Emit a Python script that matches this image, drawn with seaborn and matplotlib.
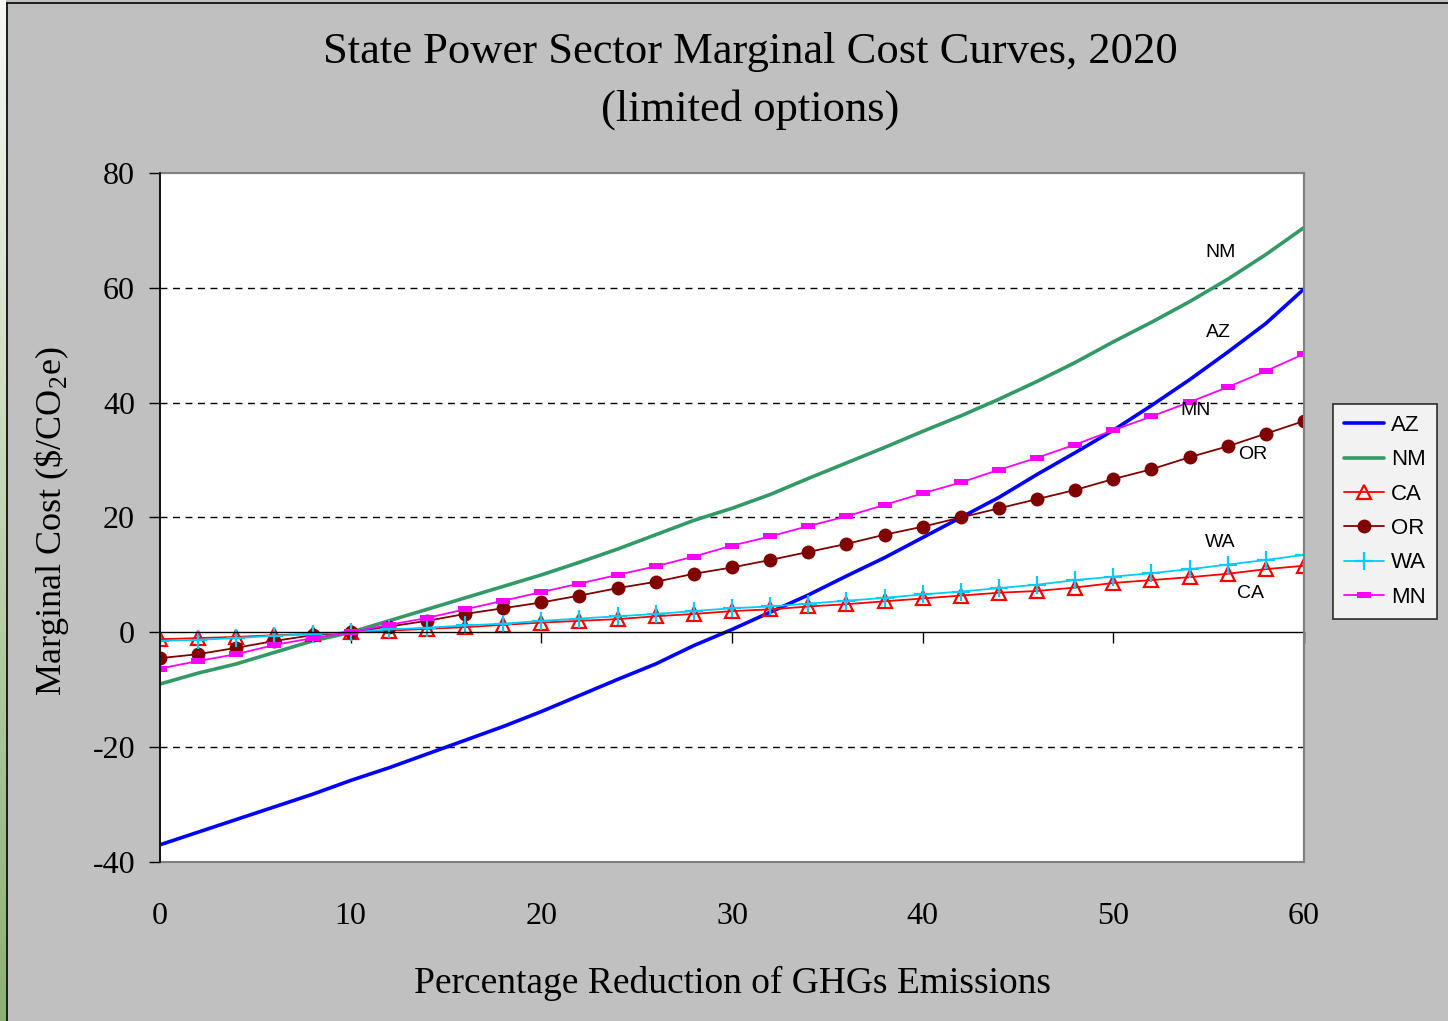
import matplotlib
matplotlib.use("Agg")
import matplotlib.pyplot as plt
from matplotlib.path import Path
from matplotlib.lines import Line2D
from matplotlib.patches import Rectangle
import numpy as np
import seaborn as sns

# percentage reduction (x) and marginal cost per state ($/tCO2e)
reduction = [0, 2, 4, 6, 8, 10, 12, 14, 16, 18, 20, 22, 24, 26, 28, 30,
             32, 34, 36, 38, 40, 42, 44, 46, 48, 50, 52, 54, 56, 58, 60]

az = [-37, -34.8, -32.6, -30.4, -28.2, -25.8, -23.6, -21.2, -18.8, -16.4, -13.8,
      -11, -8.2, -5.5, -2.3, 0.5, 3.5, 6.5, 9.8, 13, 16.5, 20, 23.5, 27.5,
      31.3, 35.2, 39.5, 44, 48.8, 53.8, 59.8]
nm = [-9, -7.1, -5.5, -3.5, -1.5, 0, 2, 4, 6, 8, 10, 12.2, 14.5, 17, 19.5,
      21.6, 24, 26.8, 29.5, 32.2, 35, 37.7, 40.6, 43.7, 47, 50.6, 54, 57.6,
      61.5, 65.8, 70.5]
ca = [-1.2, -1, -0.8, -0.5, -0.3, 0, 0.3, 0.6, 0.9, 1.3, 1.7, 2, 2.3, 2.8,
      3.2, 3.7, 4, 4.5, 4.9, 5.4, 5.9, 6.4, 6.9, 7.2, 7.8, 8.6, 9.1, 9.6,
      10.2, 11, 11.6]
orr = [-4.5, -3.8, -2.7, -1.5, -0.5, 0, 1, 2, 3.2, 4.2, 5.2, 6.4, 7.7, 8.8,
       10.2, 11.3, 12.6, 14, 15.4, 17, 18.4, 20, 21.6, 23.2, 24.8, 26.7, 28.4,
       30.5, 32.4, 34.6, 36.8]
wa = [-1.5, -1.3, -1, -0.6, -0.3, 0, 0.5, 0.8, 1.2, 1.5, 2, 2.4, 2.8, 3.2,
      3.7, 4.2, 4.5, 5, 5.5, 6, 6.6, 7.1, 7.7, 8.3, 9.1, 9.7, 10.3, 11, 11.8,
      12.6, 13.5]
mn = [-6.3, -5, -3.8, -2.2, -1, 0, 1.3, 2.5, 4, 5.5, 7, 8.5, 10, 11.5, 13.2,
      15.1, 16.7, 18.5, 20.2, 22.2, 24.2, 26.1, 28.3, 30.4, 32.7, 35.2, 37.6,
      40.1, 42.7, 45.5, 48.5]

states = ["AZ", "NM", "CA", "OR", "WA", "MN"]
series = [az, nm, ca, orr, wa, mn]

# in-plot state labels (data coords)
label_x = [55.5, 55.6, 57.2, 57.3, 55.6, 54.3]
label_y = [52.3, 66.2, 6.8, 31.0, 15.6, 38.7]

x_ticks = [0, 10, 20, 30, 40, 50, 60]
y_ticks = [-40, -20, 0, 20, 40, 60, 80]
grid_levels = [-20, 20, 40, 60]

rect = Path([(-1, -0.38), (1, -0.38), (1, 0.38), (-1, 0.38), (-1, -0.38)])
styles = {
    "AZ": dict(color="#0000ff", lw=2.6, marker=None),
    "NM": dict(color="#339966", lw=2.6, marker=None),
    "CA": dict(color="#ff0000", lw=1.3, marker="^", ms=10, mfc="none",
               mec="#ff0000", mew=1.6),
    "OR": dict(color="#800000", lw=1.3, marker="o", ms=10, mfc="#800000",
               mec="#800000", mew=0),
    "WA": dict(color="#00ccff", lw=1.3, marker="+", ms=13, mec="#00ccff",
               mew=1.6),
    "MN": dict(color="#ff00ff", lw=1.3, marker=rect, ms=10.5, mfc="#ff00ff",
               mec="#ff00ff", mew=0),
}

sns.set_style("white")
plt.rcParams["font.family"] = ["Liberation Serif", "DejaVu Serif"]
plt.rcParams["axes.unicode_minus"] = False
plt.rcParams["mathtext.fontset"] = "custom"
plt.rcParams["mathtext.rm"] = "Liberation Serif"
for key in ["text.color", "axes.labelcolor", "xtick.color", "ytick.color"]:
    plt.rcParams[key] = "black"

W, H = 1448, 1021
fig = plt.figure(figsize=(W / 100, H / 100), dpi=100, facecolor="#c0c0c0")
ax = fig.add_axes([160 / W, 1 - 862 / H, (1304 - 160) / W, (862 - 173) / H])
ax.set_facecolor("white")

for st, vals in zip(states, series):
    kw = styles[st]
    sns.lineplot(x=reduction, y=vals, ax=ax, label=st, estimator=None,
                 sort=False, **kw)

for g in grid_levels:
    ax.axhline(g, color="black", lw=1, ls=(0, (5, 4)), zorder=0.5)

ax.set_xlim(0, 60)
ax.set_ylim(-40, 80)
ax.set_yticks(y_ticks)
ax.set_xticks(x_ticks)
ax.tick_params(axis="y", direction="out", length=8, width=1, color="black",
               labelsize=23, pad=10, left=True, labelcolor="black")
ax.tick_params(axis="x", direction="out", length=8, width=1, color="black",
               labelbottom=False, bottom=True)

ax.spines["bottom"].set_position(("data", 0))
ax.spines["bottom"].set_color("black")
ax.spines["bottom"].set_linewidth(1)
ax.spines["left"].set_color("black")
ax.spines["left"].set_linewidth(1.2)
for s in ["top", "right"]:
    ax.spines[s].set_color("#808080")
    ax.spines[s].set_linewidth(1.5)
ax.add_patch(Rectangle((0, 0), 1, 1, transform=ax.transAxes, fill=False,
                       ec="#808080", lw=1.5, zorder=5, clip_on=False))
ax.spines["left"].set_zorder(6)

sec = ax.secondary_xaxis(location=0)
sec.set_xticks(x_ticks)
sec.tick_params(length=0, labelsize=23, pad=29, labelcolor="black")
sec.spines["bottom"].set_visible(False)

ax.set_xlabel("")
ax.set_ylabel("")
fig.text(733 / W, 1 - 983 / H, "Percentage Reduction of GHGs Emissions",
         ha="center", va="center", fontsize=27, color="black")
fig.text(52 / W, 1 - 521 / H, r"Marginal Cost (\$/CO$_\mathregular{2}$e)",
         ha="center", va="center", rotation=90, fontsize=26, color="black")
fig.text(750 / W, 1 - 52 / H, "State Power Sector Marginal Cost Curves, 2020",
         ha="center", va="center", fontsize=32, color="black")
fig.text(750 / W, 1 - 110 / H, "(limited options)",
         ha="center", va="center", fontsize=32, color="black")

for st, lx, ly in zip(states, label_x, label_y):
    ax.text(lx, ly, st, ha="center", va="center", fontsize=14, color="black",
            family=["Liberation Sans", "DejaVu Sans"])

leg = ax.legend(loc="upper left", bbox_to_anchor=(1333 / W, 1 - 404 / H),
                bbox_transform=fig.transFigure, frameon=True, fancybox=False,
                prop={"family": "Liberation Sans", "size": 16},
                handlelength=1.8, labelspacing=0.6, handletextpad=0.3,
                borderpad=0.5, borderaxespad=0)
leg.get_frame().set_edgecolor("black")
leg.get_frame().set_linewidth(1.2)
leg.get_frame().set_facecolor("white")
for t in leg.get_texts():
    t.set_color("black")

# slide edge: green gradient strip and black frame
strip = fig.add_axes([0, 0, 6 / W, 1])
grad = np.linspace(0, 1, 256).reshape(-1, 1)
green = np.array([0.55, 0.69, 0.45])
img = (1 - grad)[..., None] * np.array([0.97, 0.98, 0.96]) + grad[..., None] * green
strip.imshow(img, aspect="auto")
strip.set_axis_off()
fig.add_artist(Line2D([7 / W, 7 / W], [0, 1 - 3 / H], color="black", lw=1.2,
                      transform=fig.transFigure))
fig.add_artist(Line2D([7 / W, 1], [1 - 3 / H, 1 - 3 / H], color="black", lw=1.2,
                      transform=fig.transFigure))

fig.savefig("out.png", dpi=100, facecolor=fig.get_facecolor())
